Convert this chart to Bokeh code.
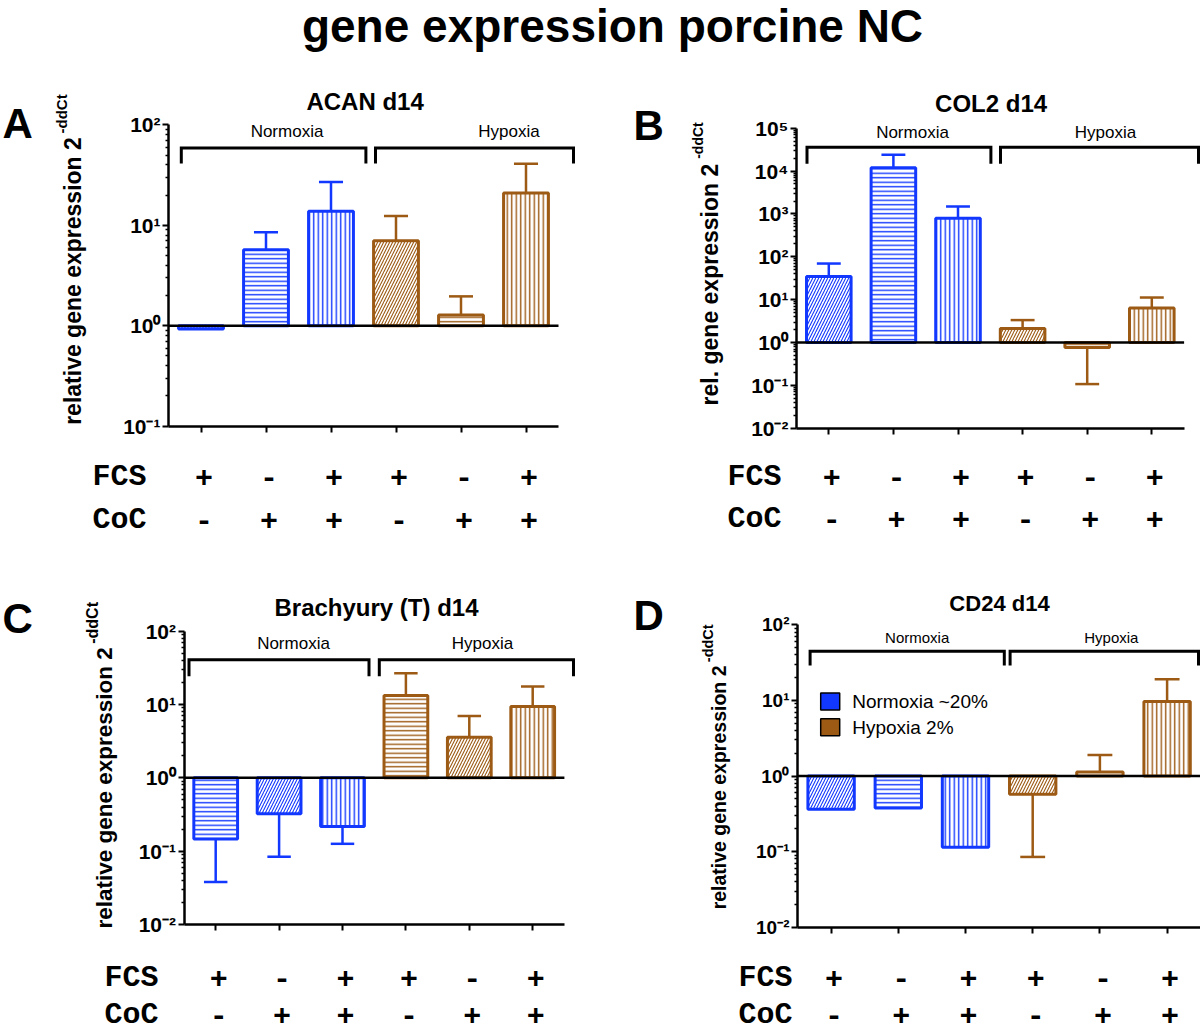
import math
from bokeh.plotting import figure
from bokeh.models import (Range1d, FixedTicker, CustomJSTickFormatter, Label,
                          LabelSet, ColumnDataSource)
from bokeh.core.properties import value
from bokeh.layouts import column, row
from bokeh.embed import file_html
from bokeh.resources import INLINE

# ---------------- data ----------------
fcs = ["+", "-", "+", "+", "-", "+"]
coc = ["-", "+", "+", "-", "+", "+"]
oxygen = ["Normoxia", "Normoxia", "Normoxia", "Hypoxia", "Hypoxia", "Hypoxia"]

acan_mean = [0.93, 5.7, 13.8, 7.0, 1.28, 21.0]
acan_err = [float("nan"), 8.5, 27.0, 12.4, 1.96, 41.0]

col2_mean = [34.5, 12000.0, 794.0, 2.12, 0.764, 6.34]
col2_err = [69.5, 24100.0, 1480.0, 3.33, 0.107, 11.2]

bra_mean = [0.147, 0.323, 0.217, 13.3, 3.58, 9.4]
bra_err = [0.038, 0.084, 0.126, 26.7, 7.0, 17.6]

cd24_mean = [0.363, 0.378, 0.114, 0.573, 1.13, 9.7]
cd24_err = [float("nan"), float("nan"), float("nan"), 0.085, 1.9, 19.0]

legend_labels = ["Normoxia ~20%", "Hypoxia 2%"]

# ---------------- style ----------------
BLUE = "#1238FF"
BROWN = "#9C5A14"
FONT = "Liberation Sans"
MONO = "Liberation Mono"
COLORS = {"Normoxia": BLUE, "Hypoxia": BROWN}
HATCH_SCALE = {"/": 6.0, "-": 4.5, "|": 4.5}
HATCH_WEIGHT = {"/": 1.1, "-": 1.4, "|": 1.4}

SUP_JS = """
const e = Math.round(Math.log10(tick));
const sup = "\u2070\u00b9\u00b2\u00b3\u2074\u2075\u2076\u2077\u2078\u2079";
let s = "";
for (const ch of String(e)) { s += (ch === "-") ? "\u207b" : sup[parseInt(ch)]; }
return "10" + s;
"""

# geometry in page pixels: fig=(x, y, w, h); axis=(y-axis x, top decade y, bottom decade y)
# ylab_pos = (main centre x, main end y, main size, sup centre x, sup start y, sup size)
panels = [
    dict(means=acan_mean, errs=acan_err, hatch=["/", "-", "|", "/", "-", "|"],
         title="ACAN d14", letter="A", ylab="relative gene expression 2",
         fig=(0, 80, 600, 490), axis=(168, 124.3, 425.7), sp=65.0, yr=(0.1, 100.0),
         letter_pos=(2, 123, 42), title_pos=(364.6, 100.5, 24),
         ylab_pos=(72.5, 136.7, 23, 60.5, 133, 15),
         brackets=[(180.8, 365.4), (375, 573)], br_y=(147.5, 163),
         br_lab=[(286.5, 131), (508.5, 131)], br_font=17,
         rows=(92, 476.7, 519), tick_font=21),
    dict(means=col2_mean, errs=col2_err, hatch=["/", "-", "|", "/", "-", "|"],
         title="COL2 d14", letter="B", ylab="rel. gene expression 2",
         fig=(600, 80, 600, 490), axis=(796, 127.7, 427.7), sp=64.6, yr=(0.01, 1e5),
         letter_pos=(633, 125, 42), title_pos=(990.6, 103.3, 24),
         ylab_pos=(709, 163.3, 23, 697, 158.3, 14),
         brackets=[(806.5, 990.4), (1000, 1198.8)], br_y=(146.7, 163.3),
         br_lab=[(912, 131.7), (1105, 131.7)], br_font=17,
         rows=(727, 476.7, 518), tick_font=21),
    dict(means=bra_mean, errs=bra_err, hatch=["-", "/", "|", "-", "/", "|"],
         title="Brachyury (T) d14", letter="C", ylab="relative gene expression 2",
         fig=(0, 570, 600, 462), axis=(183.5, 630.7, 924), sp=63.4, yr=(0.01, 100.0),
         letter_pos=(2, 617.5, 42), title_pos=(376, 606.7, 24),
         ylab_pos=(103.5, 646.7, 22.5, 91.5, 643.3, 16),
         brackets=[(188.5, 368.5), (378.8, 573)], br_y=(659.3, 675.7),
         br_lab=[(293, 643.3), (482, 643.3)], br_font=17,
         rows=(104, 977, 1014), tick_font=21),
    dict(means=cd24_mean, errs=cd24_err, hatch=["/", "-", "|", "/", "-", "|"],
         title="CD24 d14", letter="D", ylab="relative gene expression 2",
         fig=(600, 570, 600, 462), axis=(797, 624.3, 926.7), sp=67.2, yr=(0.01, 100.0),
         letter_pos=(633, 615, 42), title_pos=(999, 603.3, 22),
         ylab_pos=(718, 665, 19.5, 707, 661.7, 14.5),
         brackets=[(809.6, 1003.8), (1009.6, 1198)], br_y=(650.7, 665),
         br_lab=[(916.7, 637.3), (1110.8, 637.3)], br_font=15,
         rows=(738, 977, 1014), tick_font=19, legend=True),
]


def make_panel(c):
    fx, fy, fw, fh = c["fig"]
    L, T, B = c["axis"]
    sp = c["sp"]
    lo, hi = c["yr"]
    llo, lhi = math.log10(lo), math.log10(hi)

    def X(px):
        return -0.5 + (px - L) / sp

    def Y(py):
        return 10 ** (lhi - (py - T) / (B - T) * (lhi - llo))

    xmax = X(fx + fw)
    p = figure(width=fw, height=fh, x_range=Range1d(X(fx), xmax),
               y_range=Range1d(Y(fy + fh), Y(fy)), y_axis_type="log", title=None,
               toolbar_location=None, output_backend="svg", min_border=0)
    p.outline_line_color = None
    p.xgrid.visible = False
    p.ygrid.visible = False
    p.background_fill_color = "white"
    p.border_fill_color = "white"

    # y axis (log, decades) drawn at x = -0.5
    yax = p.yaxis[0]
    dec = list(range(round(llo), round(lhi) + 1))
    yax.fixed_location = -0.5
    yax.bounds = (lo, hi)
    yax.ticker = FixedTicker(ticks=[10.0 ** k for k in dec],
                             minor_ticks=[m * 10.0 ** k for k in dec[:-1] for m in range(2, 10)])
    yax.formatter = CustomJSTickFormatter(code=SUP_JS)
    yax.axis_line_width = 2.5
    yax.major_tick_line_width = 2
    yax.minor_tick_line_width = 1.5
    yax.major_tick_out = 6
    yax.major_tick_in = 0
    yax.minor_tick_out = 3
    yax.minor_tick_in = 0
    yax.major_label_standoff = 2
    yax.major_label_text_font = FONT
    yax.major_label_text_font_style = "bold"
    yax.major_label_text_font_size = f"{c['tick_font']}px"
    yax.major_label_text_color = "black"

    # x axis (ticks only) drawn at the lowest decade
    xend = min(5.5, xmax)
    xax = p.xaxis[0]
    xax.fixed_location = lo
    xax.bounds = (-0.5, xend)
    xax.ticker = FixedTicker(ticks=list(range(len(c["means"]))))
    xax.formatter = CustomJSTickFormatter(code="return ''")
    xax.axis_line_width = 2.5
    xax.major_tick_line_width = 2
    xax.major_tick_out = 6
    xax.major_tick_in = 0
    xax.minor_tick_out = 0

    means, errs = c["means"], c["errs"]
    xs = list(range(len(means)))
    cols = [COLORS[o] for o in oxygen]

    # error bars
    ex, ey0, ey1, ecol, cx0, cx1 = [], [], [], [], [], []
    for i, (m, e) in enumerate(zip(means, errs)):
        if e != e:
            continue
        ex.append(i); ey0.append(m); ey1.append(e); ecol.append(cols[i])
        cx0.append(i - 0.185); cx1.append(i + 0.185)
    esrc = ColumnDataSource(dict(x=ex, y0=ey0, y1=ey1, c=ecol, cx0=cx0, cx1=cx1))
    p.segment(x0="x", y0="y0", x1="x", y1="y1", line_color="c", line_width=2.5, source=esrc)
    p.segment(x0="cx0", y0="y1", x1="cx1", y1="y1", line_color="c", line_width=2.5, source=esrc)

    # bars (drawn from baseline 1)
    bsrc = ColumnDataSource(dict(
        x=xs, top=[max(m, 1.0) for m in means], bottom=[min(m, 1.0) for m in means],
        c=cols, h=c["hatch"], hs=[HATCH_SCALE[h] for h in c["hatch"]],
        hw=[HATCH_WEIGHT[h] for h in c["hatch"]]))
    p.vbar(x="x", top="top", bottom="bottom", width=0.69, source=bsrc,
           fill_color="white", line_color="c", line_width=3,
           hatch_pattern="h", hatch_color="c", hatch_scale="hs", hatch_weight="hw")

    # baseline at 1
    p.segment(x0=[-0.5], y0=[1.0], x1=[xend], y1=[1.0], line_color="black", line_width=2.5)

    # group brackets
    ytop, ybot = Y(c["br_y"][0]), Y(c["br_y"][1])
    bxs, bys = [], []
    for a, b in c["brackets"]:
        xa, xb = X(a), min(X(b), X(fx + fw - 2))
        bxs.append([xa, xa, xb, xb]); bys.append([ybot, ytop, ytop, ybot])
    p.multi_line(xs=bxs, ys=bys, line_color="black", line_width=3, line_join="miter")
    for (lx, ly), txt in zip(c["br_lab"], ["Normoxia", "Hypoxia"]):
        p.add_layout(Label(x=X(lx), y=Y(ly), text=txt, text_align="center",
                           text_baseline="middle", text_font=FONT,
                           text_font_size=f"{c['br_font']}px", text_color="black"))

    # panel title and letter
    tx, ty, tf = c["title_pos"]
    p.add_layout(Label(x=X(tx), y=Y(ty), text=c["title"], text_align="center",
                       text_baseline="middle", text_font=FONT, text_font_style="bold",
                       text_font_size=f"{tf}px", text_color="black"))
    lx, ly, lf = c["letter_pos"]
    p.add_layout(Label(x=X(lx), y=Y(ly), text=c["letter"], text_align="left",
                       text_baseline="middle", text_font=FONT, text_font_style="bold",
                       text_font_size=f"{lf}px", text_color="black"))

    # y axis label with superscript
    bx, ey, mf, sx, sy, sf = c["ylab_pos"]
    p.add_layout(Label(x=X(bx), y=Y(ey), text=c["ylab"], angle=math.pi / 2,
                       text_align="right", text_baseline="middle", text_font=FONT,
                       text_font_style="bold", text_font_size=f"{mf}px", text_color="black"))
    p.add_layout(Label(x=X(sx), y=Y(sy), text="-ddCt", angle=math.pi / 2,
                       text_align="left", text_baseline="middle", text_font=FONT,
                       text_font_style="bold", text_font_size=f"{sf}px", text_color="black"))

    # FCS / CoC condition rows
    rx, fy_row, cy_row = c["rows"]
    for txt, yy, signs in (("FCS", fy_row, fcs), ("CoC", cy_row, coc)):
        p.add_layout(Label(x=X(rx), y=Y(yy), text=txt, text_align="left",
                           text_baseline="middle", text_font=MONO, text_font_style="bold",
                           text_font_size="30px", text_color="black"))
        ssrc = ColumnDataSource(dict(x=xs, y=[Y(yy)] * len(xs), t=signs))
        p.add_layout(LabelSet(x="x", y="y", text="t", source=ssrc, x_offset=3,
                              text_align="center", text_baseline="middle",
                              text_font=value(MONO), text_font_style=value("bold"),
                              text_font_size=value("30px"), text_color="black"))

    # legend (panel D)
    if c.get("legend"):
        lsrc = ColumnDataSource(dict(x=[X(829.7)] * 2, y=[Y(701), Y(726.7)], c=[BLUE, BROWN]))
        p.rect(x="x", y="y", width=19, height=17, width_units="screen", height_units="screen",
               fill_color="c", line_color="black", line_width=1.5, source=lsrc)
        for txt, yy in zip(legend_labels, (700.7, 726.7)):
            p.add_layout(Label(x=X(851.7), y=Y(yy), text=txt, text_align="left",
                               text_baseline="middle", text_font=FONT,
                               text_font_size="19px", text_color="black"))
    return p


figs = [make_panel(c) for c in panels]

# main title (data units = page pixels)
t = figure(width=1200, height=80, x_range=Range1d(0, 1200), y_range=Range1d(80, 0),
           title=None, toolbar_location=None, output_backend="svg", min_border=0)
t.axis.visible = False
t.grid.visible = False
t.outline_line_color = None
t.add_layout(Label(x=612, y=25.5, text="gene expression porcine NC", text_align="center",
                   text_baseline="middle", text_font=FONT, text_font_style="bold",
                   text_font_size="46px", text_color="black"))

layout = column(t, row(figs[0], figs[1]), row(figs[2], figs[3]))
open("out.html", "w").write(file_html(layout, INLINE))
